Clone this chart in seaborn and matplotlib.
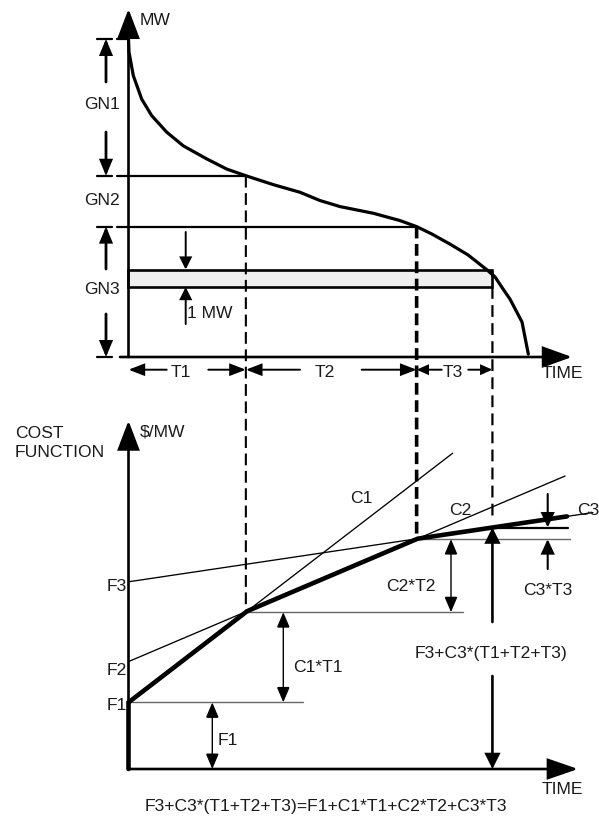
import numpy as np
import pandas as pd
import matplotlib
matplotlib.use("Agg")
import matplotlib.pyplot as plt
import seaborn as sns
from matplotlib.patches import ConnectionPatch

# ---------------- data ----------------
period_labels = ["T1", "T2", "T3"]
period_hours = [2570, 3740, 1660]          # duration of each period (h)
unit_labels = ["GN1", "GN2", "GN3"]
peak_mw = 100.0
unit_bounds_mw = [57.0, 41.0]              # GN1/GN2 and GN2/GN3 limits (MW)
strip_mw = [22.0, 27.5]                    # the "1 MW" strip (drawn enlarged)
ldc_hours = [0, 11, 105, 289, 508, 837, 1200, 1713, 2151, 2570, 3171, 3756,
             4194, 4632, 5361, 5946, 6310, 6640, 7041, 7435, 7851, 8026, 8202,
             8355, 8618, 8756]
ldc_mw = [100.0, 95.9, 88.5, 81.1, 75.9, 70.7, 66.4, 62.3, 59.1, 57.0, 54.2, 51.8,
          49.2, 47.3, 45.2, 42.9, 41.0, 38.7, 35.5, 32.1, 27.4, 25.2, 21.4,
          18.2, 11.0, 0.9]
cost_labels = ["C1", "C2", "C3"]
fixed_labels = ["F1", "F2", "F3"]
fixed_cost = [22.2, 35.8, 62.4]            # F1, F2, F3
var_cost = [11.7, 6.47, 2.27]              # C1, C2, C3 (per 1000 h)
line_end_hours = [7100, 9560, 10170]

# ---------------- layout ----------------
W_PX, H_PX, DPI = 599, 828, 100
X0_PX, H_PER_PX = 128.5, 21.9
TOP_BASE_PX, TOP_PX_PER_MW = 358.0, 3.18
BOT_BASE_PX, BOT_PX_PER_COST = 770.0, 3.0
FS = 12.6
TXT = "#1a1a1a"


def hx(px):
    return (px - X0_PX) * H_PER_PX


def mw(px):
    return (TOP_BASE_PX - px) / TOP_PX_PER_MW


def cc(px):
    return (BOT_BASE_PX - px) / BOT_PX_PER_COST


sns.set_theme(style="white")
plt.rcParams['font.family'] = ['Liberation Sans', 'DejaVu Sans']
plt.rcParams['lines.scale_dashes'] = False

fig = plt.figure(figsize=(W_PX / DPI, H_PX / DPI), dpi=DPI)
fig.patch.set_facecolor("white")
ax_t = fig.add_axes([0, 0, 1, 1])
ax_b = fig.add_axes([0, 0, 1, 1])
ax_p = fig.add_axes([0, 0, 1, 1])
for a in (ax_t, ax_b, ax_p):
    a.set_axis_off()
    a.patch.set_alpha(0)
ax_t.set_xlim(hx(0), hx(W_PX))
ax_b.set_xlim(hx(0), hx(W_PX))
ax_t.set_ylim(mw(H_PX), mw(0))
ax_b.set_ylim(cc(H_PX), cc(0))
ax_p.set_xlim(0, W_PX)
ax_p.set_ylim(H_PX, 0)


def arrow(ax, xy_from, xy_to, hl=12, hw=11, lw=1.5, both=False, color="black", z=5):
    style = "<|-|>" if both else "-|>"
    ap = dict(arrowstyle=f"{style},head_length={hl * 0.72:.2f},head_width={hw * 0.36:.2f}",
              mutation_scale=1, lw=lw, color=color, shrinkA=0, shrinkB=0,
              joinstyle="miter")
    ax.annotate("", xy=xy_to, xytext=xy_from, xycoords="data", textcoords="data",
                arrowprops=ap, zorder=z)


def label(x, y, s, ha="center", fs=FS):
    ax_p.text(x, y + 6.0, s, ha=ha, va="baseline", fontsize=fs, color=TXT)


cum = np.cumsum(period_hours)
T1, T12, Ttot = cum

# ================= TOP: load duration curve =================
ax_t.bar(0, strip_mw[1] - strip_mw[0], width=Ttot, bottom=strip_mw[0], align="edge",
         color="#eeeeee", edgecolor="black", linewidth=1.9, zorder=2)
sns.lineplot(x=ldc_hours, y=ldc_mw, ax=ax_t, color="black", lw=2.3, sort=False,
             estimator=None, zorder=4)

# horizontal level lines
ax_t.plot([hx(116.7), 0], [peak_mw, peak_mw], color="black", lw=1.6)
ax_t.plot([hx(116.7), T1], [unit_bounds_mw[0]] * 2, color="black", lw=1.6)
ax_t.plot([hx(116.7), T12], [unit_bounds_mw[1]] * 2, color="black", lw=1.6)
for lev in [peak_mw, unit_bounds_mw[0], unit_bounds_mw[1], 0.0]:
    ax_t.plot([hx(96.7), hx(111.7)], [lev, lev], color="black", lw=1.6)

# axes with arrows
arrow(ax_t, (0, 0), (0, mw(10)), hl=25, hw=19, lw=1.9)
arrow(ax_t, (hx(120), 0), (hx(572), 0), hl=25, hw=18, lw=1.9)

# bracket arrows GN1 / GN3
bx = hx(106)
arrow(ax_t, (bx, mw(83)), (bx, peak_mw), hl=12, hw=10, lw=2.0)
arrow(ax_t, (bx, mw(133)), (bx, unit_bounds_mw[0]), hl=12, hw=10, lw=2.0)
arrow(ax_t, (bx, mw(270)), (bx, unit_bounds_mw[1]), hl=12, hw=10, lw=2.0)
arrow(ax_t, (bx, mw(315)), (bx, 0), hl=12, hw=10, lw=2.0)

# 1 MW arrows
sx = hx(185.7)
arrow(ax_t, (sx, mw(233)), (sx, strip_mw[1]), hl=10, hw=10, lw=1.4)
arrow(ax_t, (sx, mw(325)), (sx, strip_mw[0]), hl=10, hw=10, lw=1.4)

# period arrows
ty = mw(370.7)
starts = [0, T1, T12]
ends = [T1, T12, Ttot]
inner_left = [166.7, 300, 441.7]
inner_right = [208.3, 361.7, 468.3]
heads = [(13, 10), (13, 10), (9, 8)]
for s, e, il, ir, (hl, hw) in zip(starts, ends, inner_left, inner_right, heads):
    arrow(ax_t, (hx(il), ty), (s, ty), hl=hl, hw=hw, lw=1.4)
    arrow(ax_t, (hx(ir), ty), (e, ty), hl=hl, hw=hw, lw=1.4)

# ================= BOTTOM: cost functions =================
F = np.array(fixed_cost)
C = np.array(var_cost) / 1000.0


def env(t):
    return float(np.min(F + C * t))


for f, c, te in zip(F, C, line_end_hours):
    tt = np.array([0.0, te])
    sns.lineplot(x=tt, y=f + c * tt, ax=ax_b, color="black", lw=0.95, estimator=None,
                 sort=False, zorder=3)

k12 = (F[1] - F[0]) / (C[0] - C[1])
k23 = (F[2] - F[1]) / (C[1] - C[2])
t_end = hx(567)
env_t = [0.0, 0.0, k12, k23, t_end]
env_y = [0.0, F[0], env(k12), env(k23), env(t_end)]
ax_b.plot(env_t, env_y, color="black", lw=3.3, solid_joinstyle="miter", zorder=4)

# reference horizontals
grey = "#666666"
ax_b.plot([0, hx(303)], [F[0], F[0]], color=grey, lw=1.0, zorder=2)
ax_b.plot([T1, hx(463)], [env(T1)] * 2, color=grey, lw=1.0, zorder=2)
ax_b.plot([T12, hx(570)], [env(T12)] * 2, color=grey, lw=1.0, zorder=2)
ax_b.plot([Ttot, hx(568)], [env(Ttot)] * 2, color="black", lw=1.6, zorder=2)

# axes
arrow(ax_b, (0, 0), (0, cc(421.7)), hl=25, hw=19, lw=1.9)
arrow(ax_b, (0, 0), (hx(578), 0), hl=26, hw=18, lw=1.9)

# dimension arrows
arrow(ax_b, (hx(212.3), 0), (hx(212.3), F[0]), hl=13, hw=11, lw=1.0, both=True)
arrow(ax_b, (hx(283.3), F[0]), (hx(283.3), env(T1)), hl=13, hw=11, lw=1.0, both=True)
arrow(ax_b, (hx(451), env(T1)), (hx(451), env(T12)), hl=13, hw=11, lw=1.0, both=True)
arrow(ax_b, (hx(547.7), cc(570)), (hx(547.7), env(T12)), hl=12, hw=11, lw=1.5)
arrow(ax_b, (hx(547.7), cc(495)), (hx(547.7), env(Ttot)), hl=12, hw=11, lw=1.5)
arrow(ax_b, (Ttot, cc(623)), (Ttot, env(Ttot)), hl=12, hw=12, lw=1.9)
arrow(ax_b, (Ttot, cc(677)), (Ttot, 0), hl=12, hw=12, lw=1.9)

# dashed links between the two charts
def vdash(t, top_mw, bot_cost, lw, dash):
    cp = ConnectionPatch(xyA=(t, top_mw), coordsA=ax_t.transData,
                         xyB=(t, bot_cost), coordsB=ax_b.transData,
                         lw=lw, color="black", linestyle=(0, dash), capstyle="butt")
    fig.add_artist(cp)


vdash(T1, unit_bounds_mw[0], env(T1), 1.5, (8.5, 4.0))
vdash(T12, unit_bounds_mw[1], env(T12), 2.6, (8.5, 4.0))
vdash(Ttot, strip_mw[0], cc(522), 1.6, (8.5, 4.5))

# ================= texts =================
ax_p.text(140, 19 + 6, "MW", ha="left", va="baseline", fontsize=FS, color=TXT)
label(101.7, 103, unit_labels[0])
label(102, 199, unit_labels[1])
label(102, 288.5, unit_labels[2])
label(187, 312.5, "1 MW", ha="left")
for s, x in zip(period_labels, [181, 325, 453]):
    label(x, 371, s)
label(562.5, 372.5, "TIME")

label(15, 431.7, "COST", ha="left")
label(15, 451, "FUNCTION", ha="left")
label(139.3, 431, "$/MW", ha="left")
for s, y in zip(fixed_labels, [704, 669, 585]):
    label(126.7, y, s, ha="right")
for s, x, y in zip(cost_labels, [361, 460, 588], [497.5, 509, 509]):
    label(x, y, s)
label(292.7, 666, "C1*T1", ha="left")
label(411.3, 585.5, "C2*T2")
label(547.7, 589, "C3*T3")
label(491.3, 652, "F3+C3*(T1+T2+T3)")
label(217.3, 739, "F1", ha="left")
label(562.7, 788, "TIME")
label(326, 805, "F3+C3*(T1+T2+T3)=F1+C1*T1+C2*T2+C3*T3")

fig.savefig("out.png", dpi=DPI, facecolor="white")
